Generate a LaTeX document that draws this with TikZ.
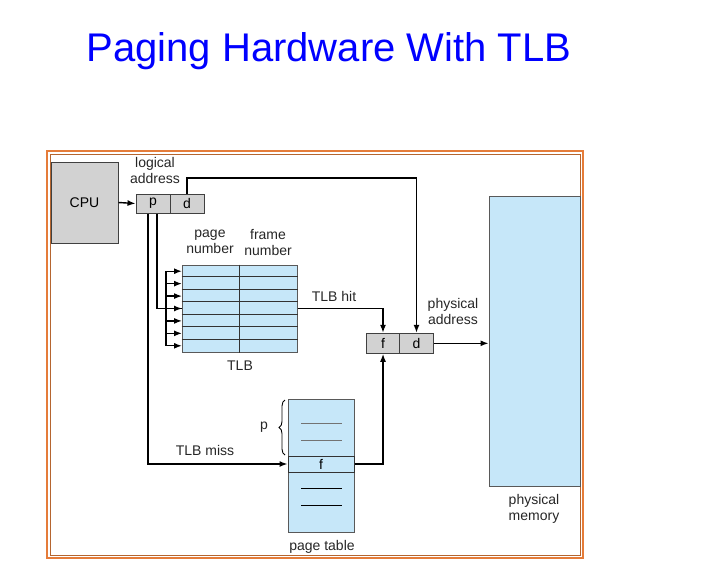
\documentclass[tikz,border=0pt]{standalone}
\usepackage{fontspec}
\setmainfont{Liberation Sans}
\usetikzlibrary{arrows.meta,calc,decorations.pathreplacing}
\definecolor{lblue}{HTML}{C6E7F9}
\definecolor{boxgray}{HTML}{D2D2D2}
\definecolor{frameor}{HTML}{E57C3A}
\definecolor{framebr}{HTML}{B5652F}
\begin{document}
\begin{tikzpicture}[x=1pt,y=-1pt,
  lbl/.style={font=\fontsize{14}{16}\selectfont, align=center, inner sep=0pt, text=black!85},
  gbox/.style={draw=black!75, fill=boxgray, line width=1pt, inner sep=0pt, font=\fontsize{14}{16}\selectfont},
  bbox/.style={draw=black!65, fill=lblue, line width=1pt, inner sep=0pt},
  arr/.style={-{Latex[length=8pt,width=6pt]}, line width=1.4pt},
  con/.style={line width=1.4pt}]
\useasboundingbox (0,0) rectangle (711,587);
% frame
\draw[frameor, line width=1.8pt] (47,151) rectangle (583,558);
\draw[framebr, line width=0.8pt] (50.5,154.5) rectangle (580,555);
% title
\node[anchor=base, text=blue, font=\fontsize{40}{48}\selectfont, inner sep=0pt] (title) at (329,61) {Paging Hardware With TLB};
% CPU
\node[gbox, minimum width=67pt, minimum height=81pt] (cpu) at (84.5,202.5) {CPU};
% logical address
\node[gbox, minimum width=34pt, minimum height=19pt] (lp) at (153,203.5) {p};
\node[gbox, minimum width=34pt, minimum height=19pt] (ld) at (187,203.5) {d};
\node[lbl] (lalbl) at (155,170) {logical\\address};
\draw[arr] (cpu.east) -- (lp.west);
% TLB
\node[bbox, minimum width=115pt, minimum height=87pt] (tlb) at (239.5,308.5) {};
\foreach \k in {1,...,6} {
  \draw[black!80, line width=1pt] ($(tlb.north west)+(0,12.43*\k)$) -- ($(tlb.north east)+(0,12.43*\k)$);
}
\draw[black!80, line width=1pt] (tlb.north) -- (tlb.south);
\node[lbl] (pn) at (210,242) {page\\number};
\node[lbl] (fn) at (268,242) {frame\\number};
\node[lbl] (tlblbl) at (240,366) {TLB};
% p to TLB
\draw[con] ($(lp.south)+(4,0)$) |- (tlb.west);
\draw[con] (166,271.2) -- (166,345.8);
\foreach \k in {0,...,6} {
  \draw[arr] (166,{271.2+12.43*\k}) -- (182,{271.2+12.43*\k});
}
% f d physical address
\node[gbox, minimum width=34pt, minimum height=20pt] (pf) at (383,343.3) {f};
\node[gbox, minimum width=34pt, minimum height=20pt] (pd) at (416.5,343.3) {d};
\node[lbl] (palbl) at (453,311) {physical\\address};
% TLB hit
\draw[arr] (tlb.east) -| (pf.north);
\node[lbl] (hitlbl) at (334,296) {TLB hit};
% d to d
\draw[arr] (ld.north) |- (300,178) -| (pd.north);
% memory
\node[bbox, minimum width=91pt, minimum height=290pt] (mem) at (534.5,341) {};
\node[lbl] (memlbl) at (534,509) {physical\\memory};
\draw[arr] (pd.east) -- (pd.east -| mem.west);
% page table
\node[bbox, minimum width=66pt, minimum height=133pt] (pt) at (321,465.5) {};
\node[draw=black!80, line width=1pt, fill=lblue, minimum width=66pt, minimum height=16pt, inner sep=0pt, font=\fontsize{14}{16}\selectfont] (ptf) at (321,464) {f};
\draw[black!55, line width=1.2pt] (301,423.3) -- (342,423.3);
\draw[black!55, line width=1.2pt] (301,440.7) -- (342,440.7);
\draw[black, line width=1.2pt] (301,488.3) -- (342,488.3);
\draw[black, line width=1.2pt] (301,505.7) -- (342,505.7);
\node[lbl] (ptlbl) at (322,547) {page table};
\draw[decorate, decoration={brace, amplitude=6pt}, line width=0.9pt] (285,455) -- (285,400);
\node[lbl] (pbr) at (264,427) {p};
% TLB miss
\draw[arr] ($(lp.south)+(-5,0)$) |- (ptf.west);
\node[lbl] (misslbl) at (205,450) {TLB miss};
\draw[arr] (ptf.east) -| (pf.south);
\end{tikzpicture}
\end{document}
